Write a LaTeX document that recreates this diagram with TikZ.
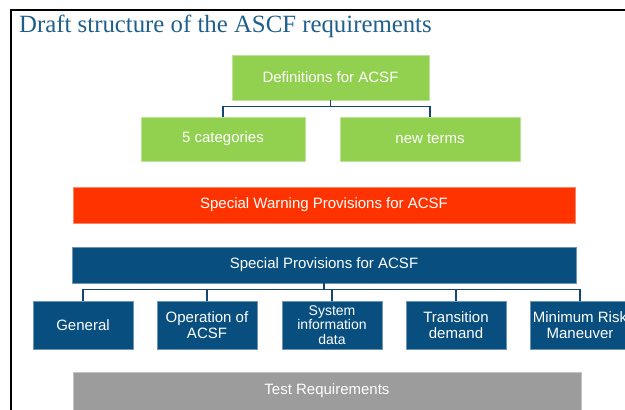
\documentclass[tikz,border=0pt]{standalone}
\usepackage{fontspec}
\setmainfont{Liberation Sans}
\newfontfamily\titlefont{Liberation Serif}
\definecolor{cgreen}{RGB}{146,208,80}
\definecolor{cred}{RGB}{255,51,0}
\definecolor{cblue}{RGB}{8,79,128}
\definecolor{cgray}{RGB}{156,156,156}
\definecolor{ctitle}{RGB}{31,95,140}
\definecolor{cline}{RGB}{20,70,115}
\tikzset{
  box/.style={rectangle, inner sep=1pt, text=white, align=center,
    font=\fontsize{15}{15.5}\selectfont, line width=0.6pt},
  gbox/.style={box, fill=cgreen, draw=cgreen!60!white},
  rbox/.style={box, fill=cred, draw=cred!60!white},
  bbox/.style={box, fill=cblue, draw=cblue!60!white},
  ybox/.style={box, fill=cgray, draw=cgray!60!white},
  conn/.style={draw=cline, line width=1.6pt},
  frame/.style={draw=black, line width=2pt}
}
\begin{document}
\begin{tikzpicture}[x=1pt,y=-1pt]
\useasboundingbox (0,0) rectangle (625,410);
\clip (0,0) rectangle (625,410);
\coordinate (fa) at (11,410);
\coordinate (fb) at (11,10);
\coordinate (fc) at (626,10);
\draw[frame] (fa) -- (fb) -- (fc);
\node[anchor=base west, text=ctitle, inner sep=0pt, font=\titlefont\fontsize{24.8}{26}\selectfont] (title) at (19,32) {Draft structure of the ASCF requirements};
% green level
\node[gbox, minimum width=197pt, minimum height=45pt] (def) at (330.5,77.5) {Definitions for ACSF};
\node[gbox, minimum width=164pt, minimum height=44pt] (cat) at (223,139) {5 categories};
\node[gbox, minimum width=180pt, minimum height=44pt] (terms) at (430,139) {new terms};
\draw[conn] (def.south) -- ++(0,6) -| (cat.north);
\draw[conn] (def.south) ++(0,6) -| (terms.north);
% red
\node[rbox, minimum width=502pt, minimum height=36pt] (warn) at (324,205) {Special Warning Provisions for ACSF};
% blue
\node[bbox, minimum width=504pt, minimum height=36pt] (prov) at (324,265) {Special Provisions for ACSF};
\node[bbox, minimum width=100pt, minimum height=48pt] (gen) at (83,325) {General};
\node[bbox, minimum width=100pt, minimum height=48pt] (op) at (207,325) {Operation of\\ACSF};
\node[bbox, minimum width=100pt, minimum height=48pt, font=\fontsize{14}{14.5}\selectfont] (sys) at (332,325) {System\\information\\data};
\node[bbox, minimum width=100pt, minimum height=48pt] (tr) at (456,325) {Transition\\demand};
\node[bbox, minimum width=100pt, minimum height=48pt] (mrm) at (580,325) {Minimum Risk\\Maneuver};
\foreach \c in {gen,op,sys,tr,mrm}{
  \draw[conn] (prov.south) ++(0,6) -| (\c.north);
}
\draw[conn] (prov.south) -- ++(0,6);
% gray
\node[ybox, minimum width=508pt, minimum height=38pt] (test) at (327,391) {Test Requirements};
\end{tikzpicture}
\end{document}
